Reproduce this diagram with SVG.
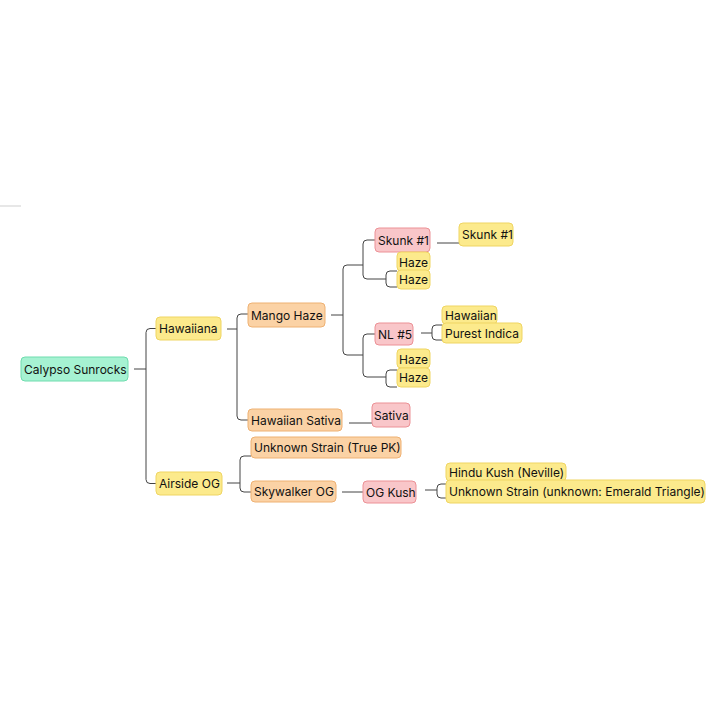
<svg xmlns="http://www.w3.org/2000/svg" width="720" height="720" viewBox="0 0 720 720">
<style>
.n rect{stroke-width:1}
.g rect{fill:#a6f2d2;stroke:#6fdcae}
.y rect{fill:#fcea8c;stroke:#efd562}
.o rect{fill:#fbd2a5;stroke:#eeb173}
.r rect{fill:#f9c6c9;stroke:#ec9196}
.n text{font-family:Inter,"Liberation Sans",sans-serif;font-size:12px;fill:#111;dominant-baseline:central}
#connectors path{fill:none;stroke:#444;stroke-width:1}
</style>
<rect width="720" height="720" fill="#fff"/>
<path d="M0 206 H21" stroke="#cfcfcf" stroke-width="1" fill="none"/>
<g id="connectors">
<path d="M134 369 H146"/>
<path d="M156 328.5 H150 Q146 328.5 146 332.5 V479.5 Q146 483.5 150 483.5 H156"/>
<path d="M227 329 H237"/>
<path d="M248 314 H241 Q237 314 237 318 V416 Q237 420 241 420 H248"/>
<path d="M227 483 H240"/>
<path d="M251 456 H244 Q240 456 240 460 V488 Q240 492 244 492 H251"/>
<path d="M331 315 H343"/>
<path d="M363 265 H347 Q343 265 343 269 V351 Q343 355 347 355 H363"/>
<path d="M375 240 H367 Q363 240 363 244 V275 Q363 279 367 279 H386"/>
<path d="M397 271 H390 Q386 271 386 275 V283 Q386 287 390 287 H397"/>
<path d="M375 334 H367 Q363 334 363 338 V373 Q363 377 367 377 H386"/>
<path d="M397 370 H390 Q386 370 386 374 V383 Q386 387 390 387 H397"/>
<path d="M421 333 H432"/>
<path d="M442 325 H436 Q432 325 432 329 V336 Q432 340 436 340 H442"/>
<path d="M437 243 H459"/>
<path d="M349 423 H372"/>
<path d="M342 492 H363"/>
<path d="M425 490 H437"/>
<path d="M446 484 H441 Q437 484 437 488 V494 Q437 498 441 498 H446"/>
</g>
<g id="calypso" class="n g"><rect x="21" y="357" width="107" height="24" rx="4"/><text x="24" y="369">Calypso Sunrocks</text></g>
<g id="hawaiiana" class="n y"><rect x="156" y="317" width="65" height="23" rx="4"/><text x="159" y="328.5">Hawaiiana</text></g>
<g id="airside" class="n y"><rect x="156" y="472" width="66" height="23" rx="4"/><text x="159" y="483.5">Airside OG</text></g>
<g id="mangohaze" class="n o"><rect x="248" y="303" width="77" height="24" rx="4"/><text x="251" y="315">Mango Haze</text></g>
<g id="hawaiiansativa" class="n o"><rect x="248" y="409" width="94" height="22" rx="4"/><text x="251" y="420">Hawaiian Sativa</text></g>
<g id="truepk" class="n o"><rect x="251" y="437" width="150" height="21" rx="4"/><text x="254" y="447.5">Unknown Strain (True PK)</text></g>
<g id="skywalker" class="n o"><rect x="251" y="481" width="85" height="21" rx="4"/><text x="254" y="491.5">Skywalker OG</text></g>
<g id="skunk1a" class="n r"><rect x="375" y="228" width="55" height="24" rx="4"/><text x="378" y="240">Skunk #1</text></g>
<g id="haze1" class="n y"><rect x="397" y="252" width="33" height="19" rx="4"/><text x="399" y="262">Haze</text></g>
<g id="haze2" class="n y"><rect x="397" y="270" width="33" height="19" rx="4"/><text x="399" y="279.5">Haze</text></g>
<g id="skunk1b" class="n y"><rect x="459" y="223" width="54" height="23" rx="4"/><text x="462" y="234.5">Skunk #1</text></g>
<g id="nl5" class="n r"><rect x="375" y="323" width="38" height="22" rx="4"/><text x="378" y="334">NL #5</text></g>
<g id="hawaiian" class="n y"><rect x="442" y="306" width="55" height="18" rx="4"/><text x="445" y="315">Hawaiian</text></g>
<g id="purestindica" class="n y"><rect x="442" y="323" width="80" height="20" rx="4"/><text x="445" y="333">Purest Indica</text></g>
<g id="haze3" class="n y"><rect x="397" y="349" width="33" height="19" rx="4"/><text x="399" y="359.5">Haze</text></g>
<g id="haze4" class="n y"><rect x="397" y="368" width="33" height="19" rx="4"/><text x="399" y="377.5">Haze</text></g>
<g id="sativa" class="n r"><rect x="372" y="403" width="38" height="24" rx="4"/><text x="374" y="415">Sativa</text></g>
<g id="ogkush" class="n r"><rect x="363" y="481" width="53" height="22" rx="4"/><text x="366" y="492">OG Kush</text></g>
<g id="hindukush" class="n y"><rect x="446" y="463" width="120" height="18" rx="4"/><text x="449" y="472">Hindu Kush (Neville)</text></g>
<g id="emerald" class="n y"><rect x="446" y="480" width="259" height="23" rx="4"/><text x="449" y="491.5">Unknown Strain (unknown: Emerald Triangle)</text></g>
</svg>
